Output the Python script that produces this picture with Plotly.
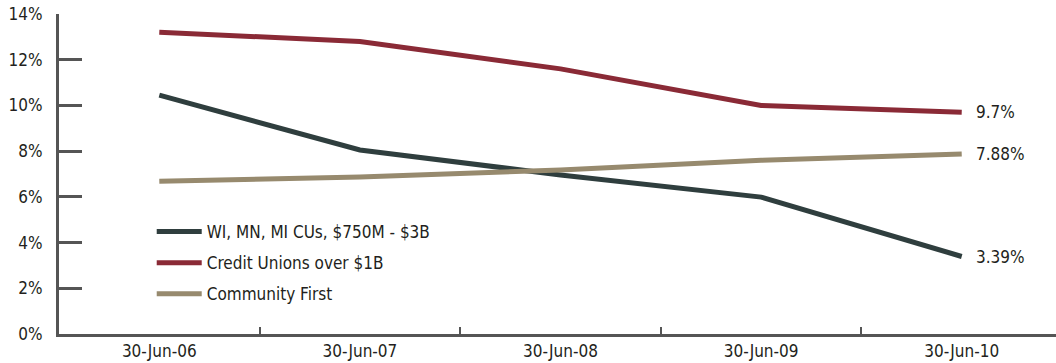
import plotly.graph_objects as go

# Quarter-end dates on the category axis
dates = ["30-Jun-06", "30-Jun-07", "30-Jun-08", "30-Jun-09", "30-Jun-10"]

# Ratios in percent
regional_cus = [10.45, 8.05, 6.96, 5.99, 3.39]
cus_over_1b = [13.2, 12.8, 11.6, 10.0, 9.7]
community_first = [6.68, 6.87, 7.18, 7.6, 7.88]

y_ticks = [0, 2, 4, 6, 8, 10, 12, 14]
y_tick_labels = [f"{v}%" for v in y_ticks]

series = [
    ("WI, MN, MI CUs, $750M - $3B", regional_cus, "#2f3e3e"),
    ("Credit Unions over $1B", cus_over_1b, "#8a2a36"),
    ("Community First", community_first, "#978a6e"),
]

FONT = "Liberation Sans Narrow, DejaVu Sans Condensed, Arial Narrow, sans-serif"
TEXT = "#231f20"
AXIS = "#555555"

fig = go.Figure()
for i, (name, vals, color) in enumerate(series):
    fig.add_trace(go.Scatter(
        x=dates, y=vals, name=name, mode="lines",
        legendgroup=f"g{i}",
        line=dict(color=color, width=5),
        hoverinfo="skip",
    ))
    # value label at the last point
    fig.add_annotation(
        x=dates[-1], y=vals[-1], text=f"{vals[-1]}%",
        showarrow=False, xanchor="left", yanchor="middle",
        xshift=12, font=dict(family=FONT, size=17, color=TEXT),
    )

fig.update_layout(
    width=1056, height=363,
    margin=dict(l=59, r=0, t=14, b=29),
    paper_bgcolor="white", plot_bgcolor="white",
    font=dict(family=FONT, size=17, color=TEXT),
    showlegend=True,
    legend=dict(
        x=0.093, y=0.375, xanchor="left", yanchor="top",
        bgcolor="rgba(0,0,0,0)", font=dict(family=FONT, size=17, color=TEXT),
        tracegroupgap=6, itemwidth=45,
    ),
    xaxis=dict(
        type="category", range=[-0.5, 4.47],
        showgrid=False, zeroline=False,
        showline=True, linecolor=AXIS, linewidth=3,
        ticks="inside", tickson="boundaries", ticklen=7, tickwidth=2, tickcolor=AXIS,
        tickfont=dict(family=FONT, size=17, color=TEXT),
    ),
    yaxis=dict(
        range=[0, 14], tickvals=y_ticks, ticktext=y_tick_labels,
        showgrid=False, zeroline=False,
        showline=True, linecolor=AXIS, linewidth=3,
        ticks="inside", ticklen=23, tickwidth=3, tickcolor=AXIS,
        ticklabelstandoff=10,
        tickfont=dict(family=FONT, size=17, color=TEXT),
    ),
)

fig.write_html("out.html")
